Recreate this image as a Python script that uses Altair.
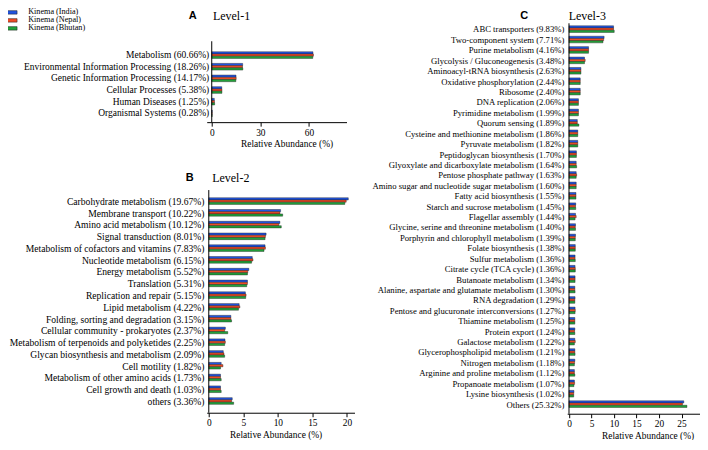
import altair as alt
import pandas as pd

series = ["Kinema (India)", "Kinema (Nepal)", "Kinema (Bhutan)"]
colors = ["#2154e0", "#ef4b26", "#22a23a"]

# ---- Level-1 ----
l1_cats = ["Metabolism (60.66%)", "Environmental Information Processing (18.26%)",
           "Genetic Information Processing (14.17%)", "Cellular Processes (5.38%)",
           "Human Diseases (1.25%)", "Organismal Systems (0.28%)"]
l1_india = [62.5, 19.1, 15.0, 6.2, 1.6, 0.3]
l1_nepal = [62.8, 19.0, 15.1, 6.3, 1.7, 0.3]
l1_bhutan = [62.4, 19.2, 14.9, 6.3, 1.8, 0.3]

# ---- Level-2 ----
l2_cats = ["Carbohydrate metabolism (19.67%)", "Membrane transport (10.22%)",
           "Amino acid metabolism (10.12%)", "Signal transduction (8.01%)",
           "Metabolism of cofactors and vitamins (7.83%)", "Nucleotide metabolism (6.15%)",
           "Energy metabolism (5.52%)", "Translation (5.31%)", "Replication and repair (5.15%)",
           "Lipid metabolism (4.22%)", "Folding, sorting and degradation (3.15%)",
           "Cellular community - prokaryotes (2.37%)",
           "Metabolism of terpenoids and polyketides (2.25%)",
           "Glycan biosynthesis and metabolism (2.09%)", "Cell motility (1.82%)",
           "Metabolism of other amino acids (1.73%)", "Cell growth and death (1.03%)",
           "others (3.36%)"]
l2_india = [20.2, 10.4, 10.3, 8.3, 8.15, 6.3, 5.8, 5.6, 5.3, 4.4, 3.2, 2.4, 2.35, 2.1, 1.8, 1.7, 1.7, 3.4]
l2_nepal = [19.9, 10.3, 10.15, 8.2, 8.2, 6.4, 5.65, 5.6, 5.4, 4.5, 3.2, 2.3, 2.4, 2.2, 2.05, 1.7, 1.7, 3.3]
l2_bhutan = [19.7, 10.7, 10.5, 8.15, 8.0, 6.2, 5.6, 5.5, 5.35, 4.3, 3.3, 2.75, 2.3, 2.3, 1.7, 1.8, 1.8, 3.6]

# ---- Level-3 ----
l3_cats = ["ABC transporters (9.83%)", "Two-component system (7.71%)",
           "Purine metabolism (4.16%)", "Glycolysis / Gluconeogenesis (3.48%)",
           "Aminoacyl-tRNA biosynthesis (2.63%)", "Oxidative phosphorylation (2.44%)",
           "Ribosome (2.40%)", "DNA replication (2.06%)", "Pyrimidine metabolism (1.99%)",
           "Quorum sensing (1.89%)", "Cysteine and methionine metabolism (1.86%)",
           "Pyruvate metabolism (1.82%)", "Peptidoglycan biosynthesis (1.70%)",
           "Glyoxylate and dicarboxylate metabolism (1.64%)", "Pentose phosphate pathway (1.63%)",
           "Amino sugar and nucleotide sugar metabolism (1.60%)", "Fatty acid biosynthesis (1.55%)",
           "Starch and sucrose metabolism (1.45%)", "Flagellar assembly (1.44%)",
           "Glycine, serine and threonine metabolism (1.40%)",
           "Porphyrin and chlorophyll metabolism (1.39%)", "Folate biosynthesis (1.38%)",
           "Sulfur metabolism (1.36%)", "Citrate cycle (TCA cycle) (1.36%)",
           "Butanoate metabolism (1.34%)", "Alanine, aspartate and glutamate metabolism (1.30%)",
           "RNA degradation (1.29%)", "Pentose and glucuronate interconversions (1.27%)",
           "Thiamine metabolism (1.25%)", "Protein export (1.24%)",
           "Galactose metabolism (1.22%)", "Glycerophospholipid metabolism (1.21%)",
           "Nitrogen metabolism (1.18%)", "Arginine and proline metabolism (1.12%)",
           "Propanoate metabolism (1.07%)", "Lysine biosynthesis (1.02%)", "Others (25.32%)"]
l3_india = [9.9, 7.8, 4.35, 3.45, 2.65, 2.5, 2.5, 2.1, 2.1, 1.85, 1.95, 1.95, 1.65, 1.6, 1.6,
            1.6, 1.55, 1.5, 1.45, 1.45, 1.45, 1.4, 1.35, 1.35, 1.35, 1.3, 1.35, 1.35, 1.3, 1.3,
            1.3, 1.3, 1.3, 1.2, 1.2, 1.1, 25.5]
l3_nepal = [9.9, 7.7, 4.35, 3.6, 2.65, 2.5, 2.5, 2.1, 2.1, 1.85, 1.95, 1.95, 1.65, 1.6, 1.7,
            1.6, 1.55, 1.45, 1.6, 1.4, 1.4, 1.4, 1.35, 1.4, 1.35, 1.3, 1.3, 1.4, 1.3, 1.25,
            1.4, 1.3, 1.25, 1.2, 1.25, 1.05, 25.2]
l3_bhutan = [10.05, 7.55, 4.35, 3.45, 2.65, 2.5, 2.5, 2.1, 2.1, 2.2, 1.95, 1.95, 1.65, 1.7, 1.6,
             1.6, 1.55, 1.5, 1.35, 1.45, 1.4, 1.4, 1.4, 1.4, 1.35, 1.35, 1.3, 1.35, 1.3, 1.3,
             1.2, 1.35, 1.2, 1.3, 1.1, 1.05, 26.2]


def long_df(cats, india, nepal, bhutan):
    rows = []
    for s, vals in zip(series, [india, nepal, bhutan]):
        for c, v in zip(cats, vals):
            rows.append({"category": c, "series": s, "value": v})
    return pd.DataFrame(rows)


legend = alt.Legend(orient="none", legendX=-199, legendY=-16, title=None,
                    labelFont="Liberation Serif", labelFontSize=8.2, labelColor="black",
                    symbolType="M-2,-0.7L2,-0.7L2,0.7L-2,0.7Z", symbolSize=25,
                    symbolStrokeColor="#1a1a1a", symbolStrokeWidth=0.5, symbolOpacity=1,
                    rowPadding=-1.4, labelOffset=12)


def panel(cats, india, nepal, bhutan, width, height, yrange, xdomain, xticks, label_size,
          label_pad, band_pad, axis_off, rule_top, letter, letter_dx, level_text,
          level_x, level_y, xtitle_dx):
    df = long_df(cats, india, nepal, bhutan)
    yscale = dict(paddingInner=band_pad, paddingOuter=band_pad / 2)
    if yrange is not None:
        yscale["range"] = yrange
    x_axis = alt.Axis(values=xticks, title="Relative Abundance (%)", grid=False,
                      offset=axis_off, tickSize=4, tickColor="black",
                      domainColor="black", labelFontSize=9.4, titleFontSize=9.4,
                      titleFontWeight="normal", labelPadding=2, titlePadding=3,
                      titleX=width / 2 + xtitle_dx,
                      labelFlush=False, labelOverlap=False)
    xscale = alt.Scale(domain=xdomain, nice=False, zero=False)
    bars = alt.Chart(df).mark_bar(stroke="#1a1a1a", strokeWidth=0.4).encode(
        x=alt.X("value:Q", stack=None, scale=xscale, axis=x_axis),
        y=alt.Y("category:N", sort=cats,
                scale=alt.Scale(**yscale),
                axis=alt.Axis(title=level_text, titleX=level_x, titleY=level_y,
                              titleAngle=0, titleAlign="left", titleBaseline="middle",
                              titleFontSize=12, titleFontWeight="normal",
                              ticks=False, domain=False, labelFontSize=label_size,
                              labelPadding=label_pad, labelLimit=0)),
        yOffset=alt.YOffset("series:N", sort=series,
                            scale=alt.Scale(paddingInner=0, paddingOuter=0)),
        color=alt.Color("series:N", sort=series,
                        scale=alt.Scale(domain=series, range=colors), legend=legend),
    )
    rule = alt.Chart(pd.DataFrame({"z": [0]})).mark_rule(color="black", strokeWidth=1).encode(
        x=alt.X("z:Q", scale=xscale, axis=x_axis),
        y=alt.value(rule_top), y2=alt.value(height + axis_off))
    return alt.layer(bars, rule).properties(
        width=width, height=height,
        title=alt.TitleParams(letter, anchor="start", frame="group", dx=letter_dx,
                              offset=-12, font="Liberation Sans", fontSize=11,
                              fontWeight="bold", color="black"))


pA = panel(l1_cats, l1_india, l1_nepal, l1_bhutan, 140, 95, [25, 95], [-3.1, 83.2], [0, 30, 60],
           9.5, -2, 0.43, 3, 17, "A", -18, "Level-1", 5.7, -9, 10)
pB = panel(l2_cats, l2_india, l2_nepal, l2_bhutan, 148, 212, None, [-0.3, 21.1], [0, 5, 10, 15, 20],
           9.6, 2.7, 0.29, 5, -6, "B", -21, "Level-2", 5, -19, -5)
pC = panel(l3_cats, l3_india, l3_nepal, l3_bhutan, 133, 386, None, [-0.4, 29.1], [0, 5, 10, 15, 20, 25],
           8.7, 3.3, 0.29, 4, -1, "C", -47, "Level-3", 1, -9, 14)

chart = alt.hconcat(alt.vconcat(pA, pB, spacing=23), pC, spacing=17, padding=0).configure_view(
    stroke=None
).configure_axis(
    labelFont="Liberation Serif", titleFont="Liberation Serif",
    labelColor="black", titleColor="black"
)

chart.save("out.html", embed_options={"renderer": "svg", "actions": False})
